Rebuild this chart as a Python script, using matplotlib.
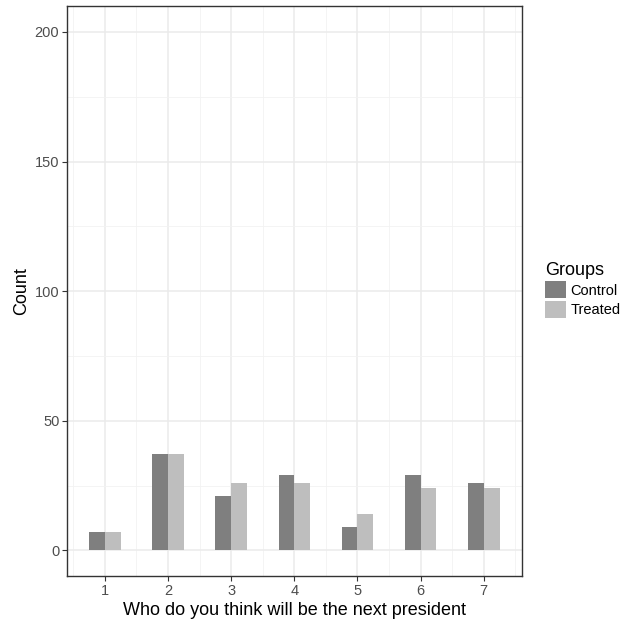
import numpy as np
import matplotlib.pyplot as plt
from matplotlib.patches import Patch

plt.rcParams['font.family'] = ['Liberation Sans', 'DejaVu Sans']

answers = [1, 2, 3, 4, 5, 6, 7]
control = [7, 37, 21, 29, 9, 29, 26]
treated = [7, 37, 26, 26, 14, 24, 24]
groups = ['Control', 'Treated']
colors = ['#7f7f7f', '#bebebe']

fig = plt.figure(figsize=(6.29, 6.24), dpi=100)
ax = fig.add_axes([0.1065, 0.0764, 0.7229, 0.914])

x = np.array(answers)
w = 0.25
ax.bar(x - w / 2, control, width=w, color=colors[0], zorder=2)
ax.bar(x + w / 2, treated, width=w, color=colors[1], zorder=2)

ax.set_xlim(0.4, 7.6)
ax.set_ylim(-10, 210)
ax.set_xticks(answers)
ax.set_yticks([0, 50, 100, 150, 200])
ax.set_xticks(np.arange(0.5, 8, 1), minor=True)
ax.set_yticks([25, 75, 125, 175], minor=True)
ax.grid(True, which='major', color='#ebebeb', linewidth=1.1, zorder=0)
ax.grid(True, which='minor', color='#f2f2f2', linewidth=0.6, zorder=0)
ax.set_axisbelow(True)
ax.tick_params(which='minor', length=0)
ax.tick_params(which='major', length=3.5, width=0.8, color='#333333',
               labelcolor='#4d4d4d', labelsize=10.5, pad=2)
for s in ax.spines.values():
    s.set_color('#333333')
    s.set_linewidth(1.0)

ax.set_xlabel('Who do you think will be the next president', fontsize=13, labelpad=3)
ax.set_ylabel('Count', fontsize=13, labelpad=3)

handles = [Patch(facecolor=c, edgecolor='none') for c in colors]
leg = fig.legend(handles, groups, title='Groups', loc='upper left',
                 bbox_to_anchor=(0.855, 0.592), frameon=False, fontsize=10.5,
                 title_fontsize=13, handlelength=1.45, handleheight=1.45,
                 handletextpad=0.3, labelspacing=0.15, borderpad=0)
leg._legend_box.align = 'left'

fig.savefig('out.png', dpi=100)
